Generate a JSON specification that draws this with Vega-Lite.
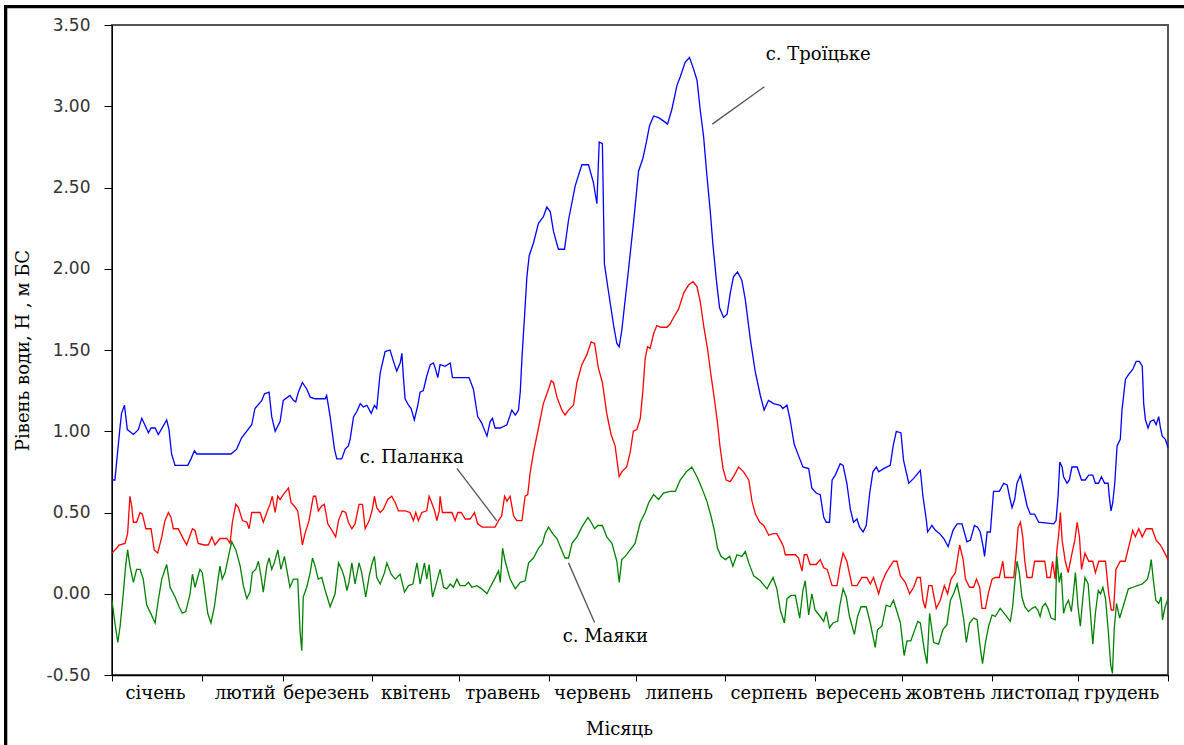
{
"$schema": "https://vega.github.io/schema/vega-lite/v6.json",
"width": 1056, "height": 650,
"autosize": {"type": "none"},
"padding": {"left": 112, "top": 25, "right": 16, "bottom": 70},
"background": "white",
"config": {"view": {"stroke": "#555555", "strokeWidth": 2}},
"datasets": {
"T": [[0,0.70],[1,0.70],[2.8,1.03],[3.3,1.11],[4.3,1.16],[5.3,1.01],[7.4,0.98],[9.1,1.01],[10.3,1.08],[12.6,0.99],[13.5,1.02],[14.9,1.02],[16,0.98],[18.9,1.07],[19.7,1.01],[20.6,0.86],[21.8,0.79],[26.2,0.79],[27.3,0.83],[28.5,0.88],[29.3,0.86],[41.1,0.86],[43.1,0.89],[44.8,0.96],[48.3,1.04],[49.4,1.14],[51.8,1.19],[52.7,1.23],[54.3,1.24],[55.2,1.09],[56.4,1.00],[58.1,1.06],[59.2,1.19],[61.5,1.22],[62.7,1.19],[63.5,1.18],[64.4,1.24],[65.8,1.30],[67.3,1.26],[68.5,1.21],[70.2,1.20],[73.7,1.20],[74.2,1.22],[75.4,1.09],[76.9,0.89],[77.7,0.83],[79.4,0.83],[80.6,0.89],[81.7,0.91],[82.3,0.95],[83.5,1.09],[84.6,1.12],[85.8,1.17],[86.9,1.15],[88.1,1.16],[89.6,1.11],[90.7,1.16],[91.5,1.14],[92.7,1.36],[94.4,1.49],[96.1,1.50],[97.3,1.43],[98.4,1.37],[99.6,1.42],[100.2,1.48],[100.7,1.34],[101.3,1.20],[102.5,1.16],[103.4,1.14],[104.5,1.07],[105.7,1.16],[106.5,1.24],[107.6,1.25],[108.8,1.34],[110,1.41],[111.1,1.42],[111.7,1.39],[112.6,1.33],[113.4,1.41],[115.1,1.40],[116.9,1.42],[117.7,1.33],[122.1,1.33],[123.4,1.33],[124.9,1.26],[126.4,1.09],[127.8,1.05],[128.7,1.01],[129.6,0.97],[130.7,1.06],[131.5,1.08],[132.4,1.02],[134.2,1.02],[136.5,1.04],[138.2,1.13],[139.4,1.10],[140.5,1.13],[141.1,1.24],[141.7,1.45],[142.6,1.71],[143.4,1.95],[144.2,2.08],[145.7,2.16],[147.4,2.28],[149.1,2.32],[150.3,2.38],[151.5,2.35],[152.6,2.23],[154.3,2.12],[156.4,2.12],[157.8,2.30],[160.1,2.51],[162.4,2.64],[164.7,2.64],[166.4,2.53],[167.6,2.40],[168.4,2.78],[169.5,2.77],[170.2,2.03],[171.6,1.86],[173.4,1.65],[174.5,1.54],[175.3,1.52],[176.2,1.62],[178.5,1.99],[180.3,2.29],[182,2.60],[183.5,2.68],[184.6,2.77],[185.8,2.88],[187.2,2.94],[188.9,2.93],[190.6,2.91],[192,2.89],[193.5,2.98],[195.3,3.13],[196.4,3.18],[198.1,3.27],[199.6,3.30],[201,3.23],[202.2,3.16],[203.3,2.98],[204.5,2.81],[205.6,2.58],[206.8,2.35],[207.7,2.15],[208.9,1.93],[210,1.76],[211.4,1.70],[212.6,1.72],[213.7,1.85],[214.8,1.95],[216.2,1.98],[217.7,1.93],[218.9,1.81],[220.6,1.57],[222.3,1.37],[224.1,1.22],[225.4,1.13],[226.9,1.19],[228.7,1.17],[231,1.16],[231.9,1.14],[233.3,1.16],[234.4,1.07],[235.8,0.92],[237.3,0.85],[238.8,0.78],[240.8,0.77],[241.9,0.65],[243.4,0.62],[244.8,0.61],[246,0.47],[246.9,0.44],[248,0.44],[248.9,0.70],[250,0.73],[251.7,0.80],[252.7,0.79],[254,0.68],[255.2,0.52],[256.3,0.44],[257.5,0.46],[258.4,0.41],[259.6,0.38],[260.7,0.42],[261.9,0.62],[263,0.75],[264.2,0.78],[265,0.75],[266.7,0.77],[269,0.79],[270,0.91],[271.1,1.00],[272.7,0.99],[273.6,0.82],[275.4,0.68],[277.1,0.71],[279.4,0.76],[280.3,0.60],[281.5,0.45],[281.9,0.38],[283.4,0.42],[284.6,0.39],[286.1,0.37],[287.5,0.34],[289,0.29],[290.7,0.39],[292.1,0.43],[293.8,0.43],[295.5,0.32],[296.7,0.33],[298.1,0.42],[299.2,0.41],[300.1,0.38],[301.1,0.29],[301.6,0.23],[302.5,0.38],[303.6,0.38],[304.7,0.63],[306.7,0.63],[308.2,0.68],[309.4,0.67],[310.2,0.60],[311.1,0.53],[312,0.58],[312.8,0.68],[314,0.73],[315.1,0.64],[316.3,0.54],[317.4,0.49],[318.9,0.49],[320.3,0.44],[325.5,0.43],[326.3,0.45],[327,0.60],[327.6,0.81],[328.4,0.78],[328.9,0.72],[330.1,0.68],[330.9,0.70],[331.8,0.78],[333.6,0.78],[335.1,0.70],[336.4,0.70],[337.6,0.73],[339,0.73],[339.9,0.68],[341,0.68],[342,0.72],[343.1,0.68],[344.3,0.68],[344.7,0.60],[345.3,0.51],[345.9,0.56],[346.6,0.68],[347.4,0.91],[348.5,0.95],[349.1,1.13],[350.3,1.32],[351.4,1.35],[352.8,1.38],[354,1.43],[355.1,1.43],[356.1,1.40],[356.6,1.17],[357.2,1.07],[358.1,1.02],[358.9,1.06],[360.1,1.07],[360.9,1.04],[361.8,1.09],[362.4,1.02],[363,0.97],[364.1,0.95],[365,0.90]],
"P": [[0,0.25],[1.6,0.28],[2.4,0.30],[4.5,0.31],[5.4,0.37],[6.2,0.60],[6.8,0.54],[7.4,0.44],[8.5,0.44],[9.7,0.50],[10.5,0.49],[11.7,0.40],[13.5,0.40],[14.6,0.27],[15.8,0.25],[17.2,0.35],[18.3,0.45],[19.5,0.50],[20.4,0.47],[21.2,0.40],[22.9,0.40],[24.3,0.35],[25.8,0.30],[26.6,0.34],[27.8,0.40],[28.7,0.39],[29.8,0.31],[31.9,0.30],[33.3,0.30],[34.5,0.35],[35.6,0.30],[37.3,0.34],[39.7,0.34],[40.8,0.31],[41.6,0.44],[42.8,0.55],[43.7,0.53],[45.1,0.45],[46.6,0.44],[47.4,0.40],[48.3,0.50],[51.2,0.50],[52.3,0.44],[53.5,0.50],[54.6,0.55],[55.4,0.60],[56.4,0.50],[57.3,0.60],[58.1,0.58],[59.2,0.61],[61,0.65],[61.9,0.56],[63,0.54],[64.2,0.51],[65,0.41],[65.8,0.30],[66.7,0.37],[68.1,0.45],[69.6,0.60],[70.4,0.60],[71.3,0.51],[72.5,0.54],[73.4,0.55],[74.6,0.43],[76,0.39],[77.3,0.35],[78.3,0.45],[79.6,0.51],[80.8,0.50],[81.7,0.44],[82.9,0.40],[84,0.43],[85.4,0.55],[86.6,0.55],[87.5,0.40],[88.9,0.45],[90,0.52],[90.7,0.60],[91.5,0.53],[92.7,0.50],[93.8,0.52],[95.3,0.58],[96.7,0.60],[97.9,0.56],[99,0.51],[101.3,0.51],[103,0.50],[104.2,0.45],[105,0.50],[105.9,0.45],[107.1,0.50],[108.8,0.51],[109.6,0.60],[110.5,0.56],[111.5,0.51],[112.3,0.45],[113.1,0.51],[113.4,0.60],[114.2,0.50],[117.5,0.50],[118.6,0.45],[119.5,0.50],[120.7,0.50],[122.1,0.46],[123.8,0.46],[125.3,0.50],[126.4,0.43],[128,0.41],[132.4,0.41],[133.6,0.45],[134.7,0.48],[135.7,0.60],[136.5,0.57],[137.6,0.60],[138.8,0.48],[139.9,0.45],[141.7,0.45],[142.8,0.60],[143.7,0.61],[144.5,0.74],[145.7,0.87],[147.4,1.02],[149.1,1.17],[150.9,1.26],[151.8,1.31],[152.6,1.30],[153.8,1.21],[155.5,1.13],[156.6,1.10],[157.8,1.13],[159.5,1.16],[160.7,1.30],[162.4,1.41],[164.1,1.47],[165.6,1.55],[166.8,1.54],[168.1,1.39],[169.5,1.30],[171,1.11],[172.5,0.98],[173.9,0.91],[175.3,0.72],[176.2,0.75],[177.9,0.78],[179.1,0.87],[180.2,1.00],[181.4,1.01],[182.6,1.08],[183.5,1.25],[184.3,1.45],[185.1,1.52],[186,1.51],[187.2,1.60],[188.3,1.65],[189.7,1.64],[191.8,1.64],[192.9,1.66],[194.1,1.70],[195.8,1.75],[197.6,1.85],[199.3,1.90],[200.8,1.92],[202.2,1.89],[203.3,1.80],[204.5,1.65],[205.9,1.50],[207,1.35],[208.2,1.20],[209.3,1.05],[210.2,0.90],[211.2,0.77],[212.3,0.70],[213.7,0.69],[215.1,0.73],[216.6,0.78],[218.3,0.75],[220.1,0.70],[221.2,0.57],[222.4,0.49],[223.9,0.44],[225.3,0.42],[227,0.36],[228.5,0.37],[229.8,0.37],[231,0.33],[232.1,0.29],[232.7,0.24],[236.2,0.24],[237.3,0.22],[238.5,0.14],[239.3,0.24],[240.2,0.24],[241.3,0.18],[243.4,0.18],[244.8,0.21],[246,0.16],[247.2,0.15],[248.9,0.05],[250.6,0.05],[251.7,0.17],[252.7,0.25],[254,0.20],[255.8,0.05],[257.5,0.05],[259.2,0.10],[260.9,0.10],[262.1,0.06],[263.2,0.10],[265,0.00],[266.1,0.07],[267.6,0.13],[269,0.17],[270.1,0.20],[271.3,0.20],[272.5,0.11],[274.2,0.07],[275.7,0.00],[277.1,0.04],[278.3,0.10],[279.4,0.10],[280.3,-0.04],[281.1,-0.09],[282.3,0.05],[283.4,0.05],[284.9,-0.09],[286.3,-0.04],[287.7,0.05],[288.8,0.00],[290,0.09],[291.5,0.13],[293,0.30],[294.2,0.21],[295,0.09],[296.4,0.04],[297.8,0.04],[298.8,0.09],[299.9,0.04],[300.7,-0.09],[301.9,-0.09],[303,0.01],[304.2,0.09],[305.3,0.10],[306.7,0.10],[307.9,0.20],[308.6,0.10],[311.7,0.10],[312.5,0.25],[313.2,0.41],[314,0.44],[314.8,0.35],[315.5,0.20],[316.3,0.10],[318,0.10],[318.9,0.20],[322.4,0.20],[323.2,0.10],[324.3,0.10],[325.1,0.20],[326,0.09],[326.6,0.27],[327.2,0.36],[327.8,0.50],[328.4,0.33],[329.5,0.20],[330.5,0.13],[331.6,0.23],[332.8,0.33],[333.6,0.44],[334.4,0.35],[335.1,0.15],[336.3,0.25],[337.6,0.20],[339,0.20],[339.9,0.13],[341.1,0.20],[343.4,0.20],[344.5,0.00],[345.4,-0.10],[346.2,-0.10],[347,0.15],[348.5,0.20],[350.2,0.20],[352,0.33],[352.8,0.39],[353.7,0.35],[354.9,0.40],[356.1,0.35],[357.5,0.40],[359.5,0.40],[360.9,0.33],[362.4,0.30],[363.9,0.25],[365,0.21]],
"M": [[0,-0.04],[1,-0.18],[2,-0.30],[2.8,-0.20],[3.9,0.00],[4.7,0.17],[5.4,0.27],[6.2,0.17],[7.4,0.07],[8.5,0.15],[9.7,0.15],[10.8,0.09],[12,-0.07],[13.1,-0.11],[14.9,-0.18],[16,-0.04],[17.2,0.09],[18.9,0.18],[20.1,0.04],[21.8,-0.02],[23.2,-0.08],[24.3,-0.12],[25.5,-0.11],[27,0.00],[27.8,0.12],[28.7,0.04],[29.6,0.10],[30.4,0.15],[31.2,0.13],[32.2,0.00],[33.1,-0.12],[34.2,-0.18],[35.4,-0.08],[36.5,0.07],[37.3,0.17],[38.1,0.09],[39.1,0.13],[40.5,0.25],[41.4,0.32],[42.8,0.27],[44.3,0.17],[45.4,0.05],[46.6,-0.03],[47.7,0.01],[48.5,0.13],[49.7,0.15],[50.6,0.20],[51.5,0.11],[52.3,0.01],[53.5,0.17],[54.3,0.22],[55.2,0.15],[56.1,0.19],[57.3,0.27],[58.4,0.15],[59.6,0.23],[60.8,0.11],[61.5,0.04],[62.7,0.09],[64.2,0.09],[65,-0.23],[65.6,-0.35],[66.1,-0.02],[67.3,0.04],[68.5,0.13],[69.3,0.22],[70.2,0.17],[71.3,0.09],[72.5,0.10],[73.7,0.02],[75.4,-0.08],[77.1,0.00],[78.3,0.19],[79.4,0.15],[80.3,0.10],[81.2,0.02],[81.9,0.07],[82.9,0.19],[84,0.06],[85.4,0.19],[86.3,0.13],[87.7,-0.02],[88.9,0.11],[89.8,0.18],[90.7,0.23],[91.5,0.10],[92.7,0.06],[94.2,0.13],[95,0.19],[96.5,0.12],[97.9,0.09],[99.6,0.12],[101.1,0.01],[102.5,0.05],[104,0.06],[105.4,0.19],[106.5,0.06],[108,0.19],[108.8,0.09],[109.6,0.18],[110.8,-0.02],[111.9,0.05],[113.4,0.15],[114.6,0.04],[115.7,0.03],[116.9,0.06],[118,0.04],[119.2,0.09],[120.3,0.05],[122.1,0.05],[123.2,0.07],[124.4,0.04],[126.1,0.05],[127.8,0.03],[129.6,0.00],[130.7,0.04],[132.2,0.09],[133.6,0.14],[134.2,0.07],[135,0.28],[135.9,0.20],[137.6,0.09],[139.4,0.03],[141.1,0.07],[142.8,0.08],[144,0.19],[145.7,0.22],[147.4,0.28],[148.8,0.31],[149.7,0.37],[150.9,0.41],[152.3,0.37],[153.8,0.34],[154.9,0.29],[156.6,0.22],[157.8,0.22],[159,0.31],[160.7,0.35],[162.4,0.41],[164.5,0.47],[165.6,0.44],[166.8,0.40],[167.9,0.42],[169.5,0.42],[171,0.35],[172.8,0.31],[174.5,0.20],[175.3,0.07],[176.2,0.21],[177.4,0.23],[179.1,0.27],[180.8,0.31],[182.6,0.44],[184.3,0.50],[185.5,0.56],[187.2,0.61],[188.9,0.58],[190.6,0.62],[192.9,0.63],[194.7,0.63],[196.4,0.70],[198.5,0.75],[200.4,0.78],[202.2,0.72],[203.9,0.65],[205.6,0.57],[207,0.48],[208.2,0.39],[209.3,0.28],[210.5,0.23],[212,0.21],[213.5,0.23],[214.6,0.17],[216,0.24],[217.7,0.23],[218.9,0.26],[220.1,0.19],[221.8,0.11],[224.1,0.08],[226.4,0.03],[228.5,0.10],[229.8,0.03],[231,-0.10],[232.4,-0.18],[233.3,-0.03],[234.7,-0.01],[236.2,-0.01],[237.7,-0.15],[238.8,0.02],[239.6,0.08],[240.8,-0.13],[241.9,0.00],[243,-0.10],[244.8,-0.14],[246,-0.17],[246.9,-0.11],[248,-0.21],[249.2,-0.18],[250.8,-0.17],[251.7,-0.06],[252.7,0.03],[253.8,-0.02],[254.9,-0.14],[256.6,-0.25],[257.7,-0.14],[258.9,-0.08],[260.7,-0.08],[262.1,-0.18],[263.8,-0.33],[264.6,-0.22],[266.1,-0.20],[267.6,-0.07],[269,-0.08],[270.1,-0.04],[271.5,-0.12],[272.5,-0.18],[273.8,-0.38],[274.8,-0.29],[276.1,-0.29],[277.3,-0.23],[278.5,-0.17],[279.4,-0.18],[280.8,-0.35],[281.7,-0.43],[282.6,-0.12],[284,-0.30],[285.7,-0.31],[287.2,-0.22],[288.6,-0.19],[289.8,-0.04],[290.9,0.00],[292.1,0.06],[293.3,-0.04],[294.4,-0.16],[295.3,-0.30],[296.4,-0.18],[297.8,-0.15],[299,-0.16],[300.1,-0.33],[300.9,-0.43],[301.9,-0.30],[303,-0.20],[304.2,-0.13],[305.3,-0.14],[307,-0.09],[308.8,-0.13],[310.5,-0.17],[311.3,-0.08],[312,0.06],[312.8,0.20],[313.6,0.13],[314.5,-0.02],[315.5,-0.08],[316.8,-0.11],[318,-0.09],[319.1,-0.08],[320,-0.10],[320.8,-0.14],[321.6,-0.08],[322.6,-0.06],[323.5,-0.09],[324.6,-0.15],[326,-0.16],[326.6,0.23],[327.4,0.07],[328.1,0.13],[328.9,-0.12],[329.7,-0.07],[330.6,-0.04],[331.6,-0.11],[332.4,0.02],[333,0.13],[333.9,-0.08],[334.7,-0.20],[335.6,-0.02],[336.3,0.10],[337.4,0.06],[338.2,-0.12],[339,-0.31],[339.9,-0.12],[340.9,0.02],[341.7,0.00],[342.5,0.04],[343.4,-0.03],[344.4,-0.24],[345.2,-0.44],[345.8,-0.49],[346.4,-0.22],[347.2,-0.06],[348.3,-0.15],[349.8,-0.06],[351.3,0.03],[352.9,0.04],[354.4,0.05],[356.1,0.06],[357.9,0.09],[358.7,0.15],[359.2,0.21],[359.9,0.09],[360.8,-0.04],[361.8,-0.06],[362.6,-0.02],[363.1,-0.16],[364,-0.08],[365,-0.03]]
},
"layer": [
{"data": {"values": [{}]}, "mark": {"type": "rule", "color": "#000000", "strokeWidth": 3.3}, "encoding": {"x": {"datum": -37.3, "type": "quantitative"}, "x2": {"datum": 372}, "y": {"datum": 3.6126, "type": "quantitative"}}},
{"data": {"values": [{}]}, "mark": {"type": "rule", "color": "#000000", "strokeWidth": 3.3}, "encoding": {"x": {"datum": -36.76, "type": "quantitative"}, "y": {"datum": 3.623, "type": "quantitative"}, "y2": {"datum": -1.0}}},
{
"data": {"name": "T"},
"transform": [{"calculate": "'T'", "as": "s"}, {"calculate": "datum[0]", "as": "d"}, {"calculate": "datum[1]", "as": "v"}],
"mark": {"type": "line", "strokeWidth": 1.3},
"encoding": {
"x": {"field": "d", "type": "quantitative", "scale": {"domain": [0, 365], "nice": false, "zero": false},
 "axis": {"values": [0,31,59,90,120,151,181,212,243,273,304,334,365],
  "labelExpr": "['січень','лютий','березень','квітень','травень','червень','липень','серпень','вересень','жовтень','листопад','грудень',''][indexof([0,31,59,90,120,151,181,212,243,273,304,334,365], datum.value)]",
  "labelOffset": 43, "labelFlush": false, "labelOverlap": false, "labelBound": false, "grid": false,
  "tickSize": 6, "tickColor": "#000000", "domainColor": "#000000", "domainWidth": 1.5,
  "labelFont": "DejaVu Serif", "labelFontSize": 18, "labelColor": "#000000", "labelPadding": 3,
  "title": "Місяць", "titleFont": "DejaVu Serif", "titleFontSize": 18, "titleFontWeight": "normal", "titleColor": "#000000", "titlePadding": 18, "titleX": 507}},
"y": {"field": "v", "type": "quantitative", "scale": {"domain": [-0.5, 3.5], "nice": false, "zero": false},
 "axis": {"values": [-0.5,0,0.5,1,1.5,2,2.5,3,3.5], "labelExpr": "replace(format(datum.value, '.2f'), '−', '-')", "grid": false,
  "tickSize": 8, "tickColor": "#000000", "domainColor": "#000000",
  "labelFont": "DejaVu Sans", "labelFontSize": 17, "labelColor": "#333333", "labelPadding": 14,
  "title": "Рівень води, H , м БС", "titleFont": "DejaVu Serif", "titleFontSize": 18, "titleFontWeight": "normal", "titleColor": "#000000", "titlePadding": 14}},
"color": {"field": "s", "type": "nominal", "scale": {"domain": ["T","P","M"], "range": ["#0000ff","#ff0000","#008000"]}, "legend": null}
}
},
{
"data": {"name": "P"},
"transform": [{"calculate": "'P'", "as": "s"}, {"calculate": "datum[0]", "as": "d"}, {"calculate": "datum[1]", "as": "v"}],
"mark": {"type": "line", "strokeWidth": 1.3},
"encoding": {"x": {"field": "d", "type": "quantitative"}, "y": {"field": "v", "type": "quantitative"}, "color": {"field": "s", "type": "nominal"}}
},
{
"data": {"name": "M"},
"transform": [{"calculate": "'M'", "as": "s"}, {"calculate": "datum[0]", "as": "d"}, {"calculate": "datum[1]", "as": "v"}],
"mark": {"type": "line", "strokeWidth": 1.3},
"encoding": {"x": {"field": "d", "type": "quantitative"}, "y": {"field": "v", "type": "quantitative"}, "color": {"field": "s", "type": "nominal"}}
},
{"data": {"values": [{}]}, "mark": {"type": "rule", "color": "#555555", "strokeWidth": 1.3}, "encoding": {"x": {"datum": 207.5, "type": "quantitative"}, "y": {"datum": 2.89, "type": "quantitative"}, "x2": {"datum": 225.5}, "y2": {"datum": 3.12}}},
{"data": {"values": [{}]}, "mark": {"type": "rule", "color": "#555555", "strokeWidth": 1.3}, "encoding": {"x": {"datum": 119.2, "type": "quantitative"}, "y": {"datum": 0.772, "type": "quantitative"}, "x2": {"datum": 133.0}, "y2": {"datum": 0.449}}},
{"data": {"values": [{}]}, "mark": {"type": "rule", "color": "#555555", "strokeWidth": 1.3}, "encoding": {"x": {"datum": 157.8, "type": "quantitative"}, "y": {"datum": 0.19, "type": "quantitative"}, "x2": {"datum": 166.8}, "y2": {"datum": -0.177}}},
{"data": {"values": [{}]}, "mark": {"type": "text", "font": "DejaVu Serif", "fontSize": 18, "color": "#000000"}, "encoding": {"x": {"datum": 244.1, "type": "quantitative"}, "y": {"datum": 3.315, "type": "quantitative"}, "text": {"value": "с. Троїцьке"}}},
{"data": {"values": [{}]}, "mark": {"type": "text", "font": "DejaVu Serif", "fontSize": 18, "color": "#000000"}, "encoding": {"x": {"datum": 103.6, "type": "quantitative"}, "y": {"datum": 0.835, "type": "quantitative"}, "text": {"value": "с. Паланка"}}},
{"data": {"values": [{}]}, "mark": {"type": "text", "font": "DejaVu Serif", "fontSize": 18, "color": "#000000"}, "encoding": {"x": {"datum": 170.5, "type": "quantitative"}, "y": {"datum": -0.266, "type": "quantitative"}, "text": {"value": "с. Маяки"}}}
]
}
